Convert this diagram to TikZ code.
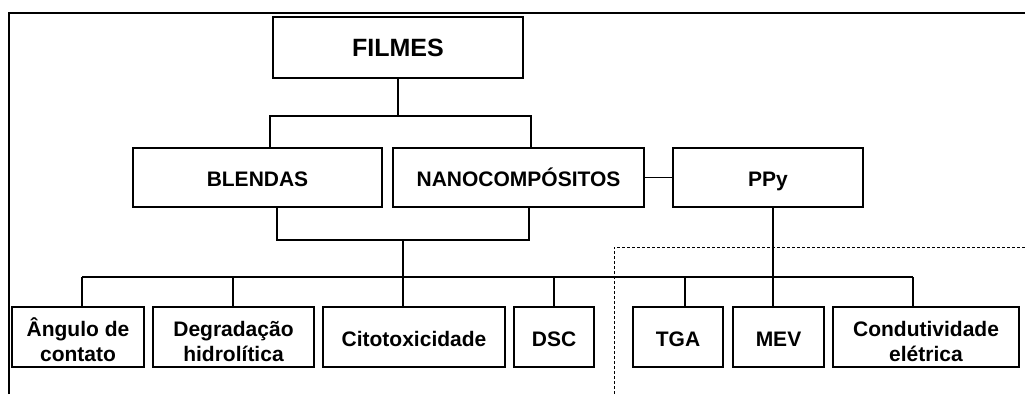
\documentclass[tikz,border=0pt]{standalone}
\usepackage{fontspec}
\setmainfont{Liberation Sans}
\newcommand{\boxtxt}[2]{\raisebox{-#1}[0pt][0pt]{\begin{tabular}[b]{@{}c@{}}#2\end{tabular}}}
\begin{document}
\begin{tikzpicture}[x=1pt,y=-1pt,
  box/.style={draw, line width=1.1pt, inner sep=0pt,
    font=\fontsize{21}{25}\selectfont\bfseries},
  conn/.style={line width=1.1pt},
  frame/.style={line width=2pt},
  dashline/.style={line width=1pt, dash pattern=on 3pt off 2pt}]
\renewcommand{\arraystretch}{1}
\useasboundingbox (0,0) rectangle (1025,394);
% frame
\draw[frame] (9,394) -- (9,13) -- (1025,13);
% top level
\node[box, minimum width=250pt, minimum height=61pt, font=\fontsize{25}{27}\selectfont\bfseries] (filmes) at (398,47.5) {\boxtxt{8.5pt}{FILMES}};
% second level
\node[box, minimum width=249pt, minimum height=59pt] (blendas) at (257.5,177.5) {\boxtxt{9pt}{BLENDAS}};
\node[box, minimum width=251pt, minimum height=59pt] (nano) at (518.5,177.5) {\boxtxt{9pt}{NANOCOMPÓSITOS}};
\node[box, minimum width=190pt, minimum height=59pt] (ppy) at (768,177.5) {\boxtxt{8.5pt}{PPy}};
% bottom level
\node[box, minimum width=132pt, minimum height=60pt] (ang) at (78,337) {\boxtxt{24.5pt}{Ângulo de\\contato}};
\node[box, minimum width=161pt, minimum height=60pt] (deg) at (233.5,337) {\boxtxt{24.5pt}{Degradação\\hidrolítica}};
\node[box, minimum width=182pt, minimum height=60pt] (cito) at (414,337) {\boxtxt{9pt}{Citotoxicidade}};
\node[box, minimum width=80pt, minimum height=60pt] (dsc) at (554,337) {\boxtxt{9pt}{DSC}};
\node[box, minimum width=90pt, minimum height=60pt] (tga) at (678,337) {\boxtxt{9pt}{TGA}};
\node[box, minimum width=91pt, minimum height=60pt] (mev) at (778.5,337) {\boxtxt{9pt}{MEV}};
\node[box, minimum width=186pt, minimum height=60pt] (cond) at (926,337) {\boxtxt{24.5pt}{Condutividade\\elétrica}};
% connectors top
\coordinate (b1) at (270,116);
\coordinate (b2) at (531,116);
\draw[conn] (filmes.south) -- (filmes.south |- b1);
\draw[conn] (blendas.north -| b1) -- (b1) -- (b2) -- (nano.north -| b2);
% lower bracket
\coordinate (c1) at (277,240);
\coordinate (c2) at (529,240);
\coordinate (cm) at (403,240);
\coordinate (bus) at (403,277);
\draw[conn] (blendas.south -| c1) -- (c1) -- (c2) -- (nano.south -| c2);
\draw[conn] (cm) -- (bus);
\coordinate (busL) at (82,277);
\coordinate (busR) at (913,277);
\draw[conn] (busL) -- (busR);
\draw[conn] (busL) -- (ang.north -| busL);
\draw[conn] (233,277) coordinate (k2) -- (deg.north -| k2);
\draw[conn] (bus) -- (cito.north -| bus);
\draw[conn] (554,277) coordinate (k4) -- (dsc.north -| k4);
\draw[conn] (685,277) coordinate (k5) -- (tga.north -| k5);
\draw[conn] (busR) -- (cond.north -| busR);
% nano - ppy
\draw[conn] (nano.east) -- (ppy.west);
% ppy down to MEV
\coordinate (p1) at (773,0);
\draw[conn] (ppy.south -| p1) -- (mev.north -| p1);
% dashed region
\draw[dashline] (614,394) -- (614,247) -- (1025,247);
\end{tikzpicture}
\end{document}
